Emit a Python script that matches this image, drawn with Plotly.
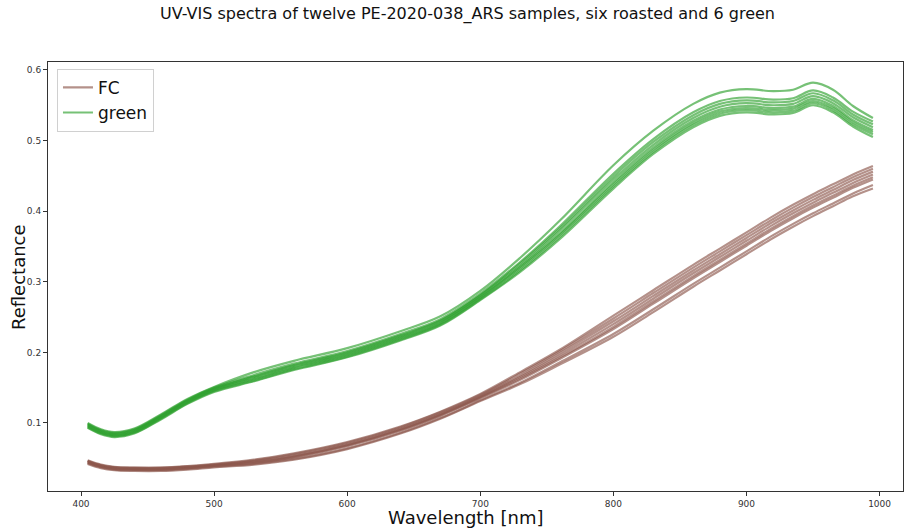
import plotly.graph_objects as go

# Wavelength grid (nm)
wavelength = [405, 415, 425, 440, 460, 480, 500, 530, 560, 600, 640, 670, 700,
              730, 760, 800, 830, 860, 880, 900, 920, 935, 950, 965, 980, 995]

# Green samples (reflectance)
green_1 = [0.100, 0.091, 0.087, 0.092, 0.112, 0.134, 0.151, 0.172, 0.188, 0.206, 0.230, 0.251, 0.287,
           0.334, 0.387, 0.465, 0.514, 0.552, 0.568, 0.573, 0.570, 0.572, 0.582, 0.572, 0.549, 0.532]
green_2 = [0.099, 0.090, 0.086, 0.091, 0.111, 0.133, 0.150, 0.168, 0.184, 0.202, 0.226, 0.247, 0.283,
           0.328, 0.379, 0.453, 0.502, 0.540, 0.556, 0.561, 0.558, 0.560, 0.571, 0.561, 0.541, 0.527]
green_3 = [0.098, 0.089, 0.085, 0.090, 0.110, 0.132, 0.149, 0.166, 0.182, 0.200, 0.224, 0.245, 0.281,
           0.326, 0.376, 0.449, 0.498, 0.536, 0.552, 0.557, 0.554, 0.556, 0.567, 0.557, 0.537, 0.523]
green_4 = [0.097, 0.088, 0.084, 0.089, 0.109, 0.131, 0.148, 0.165, 0.181, 0.199, 0.223, 0.244, 0.280,
           0.323, 0.373, 0.445, 0.494, 0.532, 0.548, 0.553, 0.550, 0.552, 0.563, 0.553, 0.533, 0.519]
green_5 = [0.096, 0.087, 0.083, 0.088, 0.108, 0.130, 0.147, 0.163, 0.179, 0.197, 0.221, 0.242, 0.278,
           0.321, 0.369, 0.441, 0.490, 0.528, 0.544, 0.549, 0.546, 0.548, 0.559, 0.549, 0.529, 0.515]
green_6 = [0.095, 0.086, 0.082, 0.087, 0.107, 0.129, 0.146, 0.162, 0.178, 0.196, 0.220, 0.241, 0.277,
           0.319, 0.367, 0.438, 0.487, 0.525, 0.541, 0.546, 0.543, 0.545, 0.556, 0.546, 0.526, 0.512]
green_7 = [0.094, 0.085, 0.081, 0.086, 0.106, 0.128, 0.145, 0.160, 0.176, 0.194, 0.218, 0.239, 0.275,
           0.316, 0.364, 0.435, 0.484, 0.522, 0.538, 0.543, 0.540, 0.542, 0.553, 0.543, 0.523, 0.509]
green_8 = [0.093, 0.084, 0.080, 0.085, 0.105, 0.127, 0.144, 0.159, 0.175, 0.193, 0.217, 0.238, 0.274,
           0.314, 0.361, 0.432, 0.481, 0.519, 0.535, 0.540, 0.537, 0.539, 0.550, 0.540, 0.520, 0.505]

# Roasted (FC) samples (reflectance)
fc_1 = [0.047, 0.041, 0.038, 0.037, 0.037, 0.039, 0.042, 0.048, 0.057, 0.073, 0.095, 0.116, 0.141,
        0.172, 0.204, 0.252, 0.288, 0.324, 0.347, 0.370, 0.393, 0.409, 0.424, 0.438, 0.452, 0.464]
fc_2 = [0.046, 0.040, 0.037, 0.036, 0.036, 0.038, 0.041, 0.047, 0.056, 0.072, 0.094, 0.115, 0.140,
        0.170, 0.202, 0.248, 0.284, 0.320, 0.343, 0.366, 0.389, 0.405, 0.420, 0.434, 0.448, 0.460]
fc_3 = [0.046, 0.040, 0.037, 0.036, 0.036, 0.038, 0.041, 0.046, 0.054, 0.070, 0.092, 0.113, 0.138,
        0.167, 0.199, 0.244, 0.280, 0.316, 0.339, 0.362, 0.385, 0.401, 0.416, 0.430, 0.444, 0.456]
fc_4 = [0.045, 0.039, 0.036, 0.035, 0.035, 0.037, 0.040, 0.045, 0.053, 0.069, 0.091, 0.112, 0.137,
        0.165, 0.196, 0.240, 0.276, 0.312, 0.335, 0.358, 0.381, 0.397, 0.412, 0.426, 0.440, 0.452]
fc_5 = [0.044, 0.038, 0.035, 0.034, 0.034, 0.036, 0.039, 0.044, 0.052, 0.068, 0.090, 0.111, 0.136,
        0.163, 0.193, 0.236, 0.272, 0.308, 0.331, 0.354, 0.377, 0.393, 0.408, 0.422, 0.436, 0.448]
fc_6 = [0.044, 0.038, 0.035, 0.034, 0.034, 0.036, 0.039, 0.043, 0.051, 0.067, 0.089, 0.110, 0.135,
        0.161, 0.191, 0.233, 0.269, 0.305, 0.328, 0.351, 0.374, 0.390, 0.405, 0.419, 0.433, 0.445]
fc_7 = [0.043, 0.037, 0.034, 0.033, 0.033, 0.035, 0.038, 0.042, 0.049, 0.064, 0.086, 0.107, 0.132,
        0.157, 0.186, 0.226, 0.261, 0.297, 0.320, 0.343, 0.366, 0.382, 0.397, 0.411, 0.425, 0.437]
fc_8 = [0.042, 0.036, 0.033, 0.032, 0.032, 0.034, 0.037, 0.041, 0.048, 0.063, 0.085, 0.106, 0.131,
        0.155, 0.183, 0.222, 0.257, 0.293, 0.316, 0.339, 0.362, 0.378, 0.393, 0.407, 0.421, 0.432]

fc_samples = [fc_1, fc_2, fc_3, fc_4, fc_5, fc_6, fc_7, fc_8]
green_samples = [green_1, green_2, green_3, green_4, green_5, green_6, green_7, green_8]

FC_COLOR = "rgba(140,86,75,0.65)"
GREEN_COLOR = "rgba(44,160,44,0.65)"

fig = go.Figure()
for i, s in enumerate(fc_samples):
    fig.add_trace(go.Scatter(
        x=wavelength, y=s, mode="lines", name="FC", legendgroup="FC",
        showlegend=(i == 0), line=dict(color=FC_COLOR, width=2.2, shape="spline")))
for i, s in enumerate(green_samples):
    fig.add_trace(go.Scatter(
        x=wavelength, y=s, mode="lines", name="green", legendgroup="green",
        showlegend=(i == 0), line=dict(color=GREEN_COLOR, width=2.2, shape="spline")))

fig.update_layout(
    width=904, height=529,
    margin=dict(l=48, r=1, t=62, b=38, autoexpand=False),
    paper_bgcolor="white", plot_bgcolor="white",
    font=dict(family="DejaVu Sans", color="#222"),
    showlegend=True,
    legend=dict(x=0.0105, y=0.984, xanchor="left", yanchor="top",
                bgcolor="white", bordercolor="#d0d0d0", borderwidth=1,
                font=dict(size=17, color="#111"), tracegroupgap=0, itemwidth=30),
    xaxis=dict(range=[375.2, 1017.6], tickvals=[400, 500, 600, 700, 800, 900, 1000],
               showgrid=False, zeroline=False, showline=True, linecolor="#333",
               linewidth=1, mirror=True, ticks="outside", ticklen=4, tickcolor="#333",
               tickfont=dict(size=9, color="#333"), automargin=False),
    yaxis=dict(range=[0.0036, 0.6113], tickvals=[0.1, 0.2, 0.3, 0.4, 0.5, 0.6],
               tickformat=".1f",
               showgrid=False, zeroline=False, showline=True, linecolor="#333",
               linewidth=1, mirror=True, ticks="outside", ticklen=4, tickcolor="#333",
               tickfont=dict(size=9, color="#333"), automargin=False),
    annotations=[
        dict(text="UV-VIS spectra of twelve PE-2020-038_ARS samples, six roasted and 6 green",
             xref="paper", yref="paper", x=(467 - 48) / 855, y=1 + (62 - 14) / 429,
             xanchor="center", yanchor="middle", showarrow=False,
             font=dict(size=16, color="#111")),
        dict(text="Wavelength [nm]", xref="paper", yref="paper",
             x=(466 - 48) / 855, y=-(517 - 491) / 429, xanchor="center", yanchor="middle",
             showarrow=False, font=dict(size=18, color="#111")),
        dict(text="Reflectance", xref="paper", yref="paper", textangle=-90,
             x=-(48 - 18) / 855, y=(491 - 277) / 429, xanchor="center", yanchor="middle",
             showarrow=False, font=dict(size=18, color="#111")),
    ],
)

fig.write_html("out.html", config={"displayModeBar": False},
               post_script="document.body.style.margin='0';document.body.style.overflow='hidden';")
